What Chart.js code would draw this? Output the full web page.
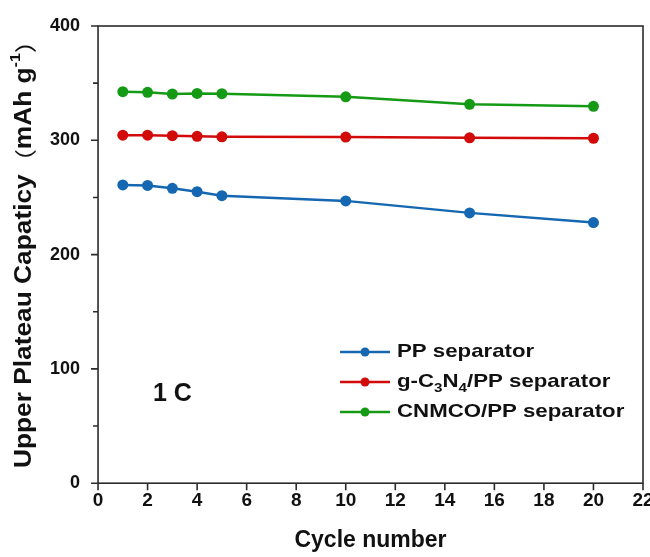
<!DOCTYPE html>
<html>
<head>
<meta charset="utf-8">
<script src="https://cdn.jsdelivr.net/npm/chart.js@4.4.0/dist/chart.umd.min.js"></script>
<style>
  html, body { margin:0; padding:0; background:#fff; }
  #wrap { width:650px; height:557px; position:relative; }
</style>
</head>
<body>
<div id="wrap"><canvas id="capChart"></canvas></div>
<script>
const cycles = [1, 2, 3, 4, 5, 10, 15, 20];
const ppSeparator = [261, 260.5, 258, 255, 251.5, 247, 236.5, 228];
const gcnSeparator = [304.5, 304.5, 304, 303.5, 303, 302.8, 302.2, 301.8];
const cnmcoSeparator = [342.5, 342, 340.5, 341, 340.8, 338, 331.5, 329.7];
const xTicks = [0, 2, 4, 6, 8, 10, 12, 14, 16, 18, 20, 22];
const yTicks = [0, 100, 200, 300, 400];

const FONT = 'Arial, "Liberation Sans", sans-serif';
const toPoints = ys => cycles.map((c, i) => ({x: c, y: ys[i]}));

const seriesDefs = [
  {label: 'PP separator', data: ppSeparator, color: '#1467b0'},
  {label: 'g-C3N4/PP separator', data: gcnSeparator, color: '#d20a0a'},
  {label: 'CNMCO/PP separator', data: cnmcoSeparator, color: '#159a15'}
];

// frame, ticks, titles, legend and annotation
const decor = {
  id: 'decor',
  afterDraw(chart) {
    const ctx = chart.ctx, a = chart.chartArea;
    const xs = chart.scales.x, ys = chart.scales.y;
    ctx.save();
    ctx.strokeStyle = '#2b2b2b';
    ctx.lineWidth = 1.6;
    ctx.strokeRect(a.left, a.top, a.right - a.left, a.bottom - a.top);

    ctx.beginPath();
    xs.ticks.forEach(t => {
      const px = xs.getPixelForValue(t.value);
      ctx.moveTo(px, a.bottom); ctx.lineTo(px, a.bottom + 7);
    });
    ys.ticks.forEach(t => {
      const py = ys.getPixelForValue(t.value);
      const len = t.value % 100 === 0 ? 7 : 5;
      ctx.moveTo(a.left, py); ctx.lineTo(a.left - len, py);
    });
    ctx.stroke();

    // x title
    ctx.fillStyle = '#111';
    ctx.font = 'bold 23px ' + FONT;
    ctx.textAlign = 'center';
    ctx.textBaseline = 'middle';
    ctx.fillText('Cycle number', (a.left + a.right) / 2, 541);

    // y title
    ctx.save();
    ctx.translate(25, 248);
    ctx.rotate(-Math.PI / 2);
    const parts = [
      {t: 'Upper Plateau Capaticy', f: 'bold 23px ' + FONT, dy: 0},
      {t: '（', f: '22px "Noto Sans CJK SC"', dy: 0},
      {t: 'mAh g', f: 'bold 23px ' + FONT, dy: 0},
      {t: '-1', f: 'bold 14px ' + FONT, dy: -9},
      {t: '）', f: '22px "Noto Sans CJK SC"', dy: 0}
    ];
    let total = 0;
    parts.forEach(p => { ctx.font = p.f; p.w = ctx.measureText(p.t).width; total += p.w; });
    const k = 440 / total;
    ctx.scale(k, 1);
    let x0 = -total / 2;
    ctx.textAlign = 'left';
    ctx.textBaseline = 'middle';
    parts.forEach(p => { ctx.font = p.f; ctx.fillText(p.t, x0, p.dy); x0 += p.w; });
    ctx.restore();

    // legend
    const lx = a.left + 242, ly = a.top + 326, gap = 30;
    seriesDefs.forEach((s, i) => {
      const y = ly + i * gap;
      ctx.strokeStyle = s.color;
      ctx.lineWidth = 2.5;
      ctx.beginPath(); ctx.moveTo(lx, y); ctx.lineTo(lx + 50, y); ctx.stroke();
      ctx.fillStyle = s.color;
      ctx.beginPath(); ctx.arc(lx + 25, y, 4.5, 0, Math.PI * 2); ctx.fill();
      ctx.save();
      ctx.translate(lx + 57, y);
      ctx.scale(1.17, 1);
      ctx.fillStyle = '#111';
      ctx.textAlign = 'left';
      ctx.textBaseline = 'middle';
      let tx = 0;
      const segs = i === 1
        ? [['g-C', 0], ['3', 1], ['N', 0], ['4', 1], ['/PP separator', 0]]
        : [[s.label, 0]];
      segs.forEach(([txt, sub]) => {
        ctx.font = sub ? 'bold 13px ' + FONT : 'bold 19px ' + FONT;
        ctx.fillText(txt, tx, sub ? 6 : 0);
        tx += ctx.measureText(txt).width;
      });
      ctx.restore();
    });

    // rate label
    ctx.font = 'bold 25px ' + FONT;
    ctx.fillStyle = '#111';
    ctx.textAlign = 'center';
    ctx.textBaseline = 'middle';
    ctx.fillText('1 C', xs.getPixelForValue(3), ys.getPixelForValue(78));
    ctx.restore();
  }
};

new Chart(document.getElementById('capChart'), {
  type: 'line',
  data: {
    datasets: seriesDefs.map(s => ({
      label: s.label,
      data: toPoints(s.data),
      borderColor: s.color,
      backgroundColor: s.color,
      borderWidth: 2.5,
      pointRadius: 5.5,
      pointHoverRadius: 5.5,
      pointBorderWidth: 0,
      tension: 0
    }))
  },
  options: {
    responsive: true,
    maintainAspectRatio: false,
    animation: false,
    layout: {padding: {left: 32, right: 7, top: 26, bottom: 39}},
    plugins: {legend: {display: false}, tooltip: {enabled: false}},
    scales: {
      x: {
        type: 'linear', min: 0, max: 22,
        afterBuildTicks: s => { s.ticks = xTicks.map(v => ({value: v})); },
        afterFit: s => { s.paddingRight = 0; s.paddingLeft = 0; },
        grid: {display: false, drawTicks: false},
        border: {display: false},
        ticks: {padding: 6, color: '#111', font: {family: FONT, size: 19, weight: 'bold'}, maxRotation: 0}
      },
      y: {
        min: 0, max: 400,
        afterFit: s => { s.paddingTop = 0; s.paddingBottom = 0; },
        ticks: {
          stepSize: 50, padding: 18, color: '#111',
          font: {family: FONT, size: 18, weight: 'bold'},
          callback: v => yTicks.includes(v) ? v : ''
        },
        grid: {display: false, drawTicks: false},
        border: {display: false}
      }
    }
  },
  plugins: [decor]
});
</script>
</body>
</html>
